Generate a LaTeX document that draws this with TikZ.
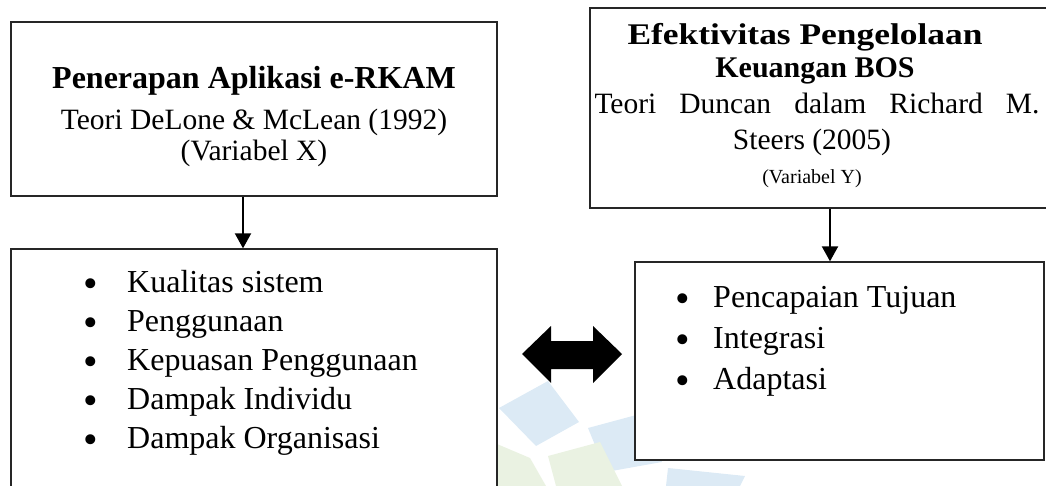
\documentclass[tikz,border=0pt]{standalone}
\usepackage{fontspec}
\setmainfont{Liberation Serif}
\usetikzlibrary{arrows.meta}
\definecolor{wmblue}{HTML}{DCEAF5}
\definecolor{wmgreen}{HTML}{EAF2E2}
\newcommand{\blt}{\smash{\raisebox{-5pt}{\scalebox{1.3}{\textbullet}}}}
\begin{document}
\begin{tikzpicture}[x=1pt,y=-1pt,
  box/.style={draw=black!85, line width=1.3pt, fill=white, inner sep=0pt},
  conn/.style={line width=2pt, -{Triangle[length=15pt,width=16pt]}},
  txt/.style={anchor=base, inner sep=0pt},
  item/.style={anchor=base west, inner sep=0pt, font=\fontsize{32}{38}\selectfont},
  ttl/.style={font=\fontsize{32}{38}\bfseries},
  reg/.style={font=\fontsize{29.5}{35}\selectfont}]
\useasboundingbox (0,0) rectangle (1046,486);
\clip (0,0) rectangle (1046,486);
% faint watermark
\fill[wmblue] (499,408) -- (548,381) -- (579,422) -- (536,446) -- cycle;
\fill[wmblue] (588,428) -- (640,414) -- (662,462) -- (606,472) -- cycle;
\fill[wmgreen] (497,444) -- (530,458) -- (546,486) -- (497,486) -- cycle;
\fill[wmgreen] (548,456) -- (600,442) -- (622,486) -- (556,486) -- cycle;
\fill[wmblue] (668,468) -- (745,476) -- (740,486) -- (666,486) -- cycle;
% boxes
\node[box, minimum width=486pt, minimum height=174pt] (A) at (254,109) {};
\node[box, minimum width=486pt, minimum height=271pt] (B) at (254,384.5) {};
\node[box, minimum width=470pt, minimum height=200pt] (C) at (825,108) {};
\node[box, minimum width=409pt, minimum height=198pt] (D) at (839.5,361) {};
% arrow columns
\coordinate (ax) at (243,0);
\coordinate (cx) at (830,0);
\draw[conn] (A.south -| ax) -- (B.north -| ax);
\draw[conn] (C.south -| cx) -- (D.north -| cx);
% double arrow
\fill (522,354) -- (551,326) -- (551,341) -- (593,341) -- (593,326) -- (622,354)
  -- (593,383) -- (593,369) -- (551,369) -- (551,383) -- cycle;
% left top texts
\node[txt, ttl] (t1) at (254,89) {Penerapan Aplikasi e-RKAM};
\node[txt, reg] (t2) at (254,130) {Teori DeLone \& McLean (1992)};
\node[txt, reg] (t3) at (254,161) {(Variabel X)};
% right top texts
\node[txt, font=\fontsize{30}{36}\bfseries] (r1) at (805,45)
  {\scalebox{1.18}[1]{Efektivitas Pengelolaan}};
\node[txt, font=\fontsize{30}{36}\bfseries] (r2) at (815,78) {Keuangan BOS};
\node[txt, reg] (r3) at (817,114) {\makebox[445pt][s]{Teori Duncan dalam Richard M.}};
\node[txt, reg] (r4) at (812,150) {Steers (2005)};
\node[txt, font=\fontsize{20}{24}\selectfont] (r5) at (812,184) {(Variabel Y)};
% left list
\node[item] (b1) at (83,292) {\makebox[44pt][l]{\blt}Kualitas sistem};
\node[item] (b2) at (83,331) {\makebox[44pt][l]{\blt}Penggunaan};
\node[item] (b3) at (83,370) {\makebox[44pt][l]{\blt}Kepuasan Penggunaan};
\node[item] (b4) at (83,409) {\makebox[44pt][l]{\blt}Dampak Individu};
\node[item] (b5) at (83,448) {\makebox[44pt][l]{\blt}Dampak Organisasi};
% right list
\node[item] (d1) at (675,307) {\makebox[38pt][l]{\blt}Pencapaian Tujuan};
\node[item] (d2) at (675,348) {\makebox[38pt][l]{\blt}Integrasi};
\node[item] (d3) at (675,389) {\makebox[38pt][l]{\blt}Adaptasi};
\end{tikzpicture}
\end{document}
